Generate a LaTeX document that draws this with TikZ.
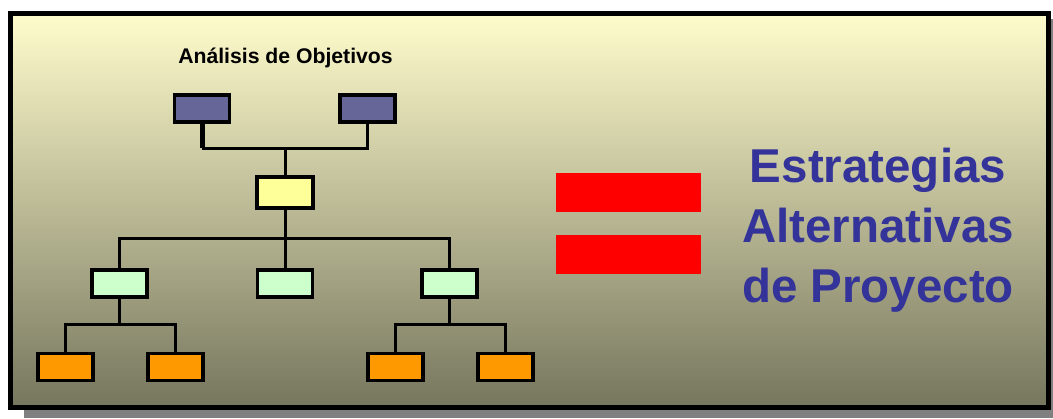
\documentclass[tikz,border=0pt]{standalone}
\usepackage{fontspec}
\setmainfont{Liberation Sans}
\usetikzlibrary{positioning}

\definecolor{morado}{HTML}{666699}
\definecolor{amarillo}{HTML}{FFFF99}
\definecolor{verde}{HTML}{CCFFCC}
\definecolor{naranja}{HTML}{FF9900}
\definecolor{azul}{HTML}{333399}
\definecolor{fondoalto}{RGB}{255,252,204}
\definecolor{fondomedio}{RGB}{184,182,146}
\definecolor{fondobajo}{RGB}{118,118,94}

\tikzset{
  caja/.style={draw=black, line width=3.5pt, minimum width=55pt, minimum height=27pt, inner sep=0pt},
  enlace/.style={line width=3pt}
}

\begin{document}
\begin{tikzpicture}[x=1pt, y=-1pt] %Escala en pixeles
	\useasboundingbox (0,0) rectangle (1053,418);
		%Marco
	\fill[gray] (24,19) rectangle (1070,418); %Sombra
	\shade[top color=fondoalto, middle color=fondomedio, bottom color=fondobajo] (10.5,13.5) rectangle (1048,407.5);
	\draw[line width=5pt] (10.5,13.5) rectangle (1048,407.5);
		%Arbol de objetivos
	\node[font=\bfseries\fontsize{21.2}{25}\selectfont, anchor=base] (titulo) at (285.5,63) {Análisis de Objetivos};
	\node[caja, fill=morado] (objA) at (202,108.5) {};
	\node[caja, fill=morado] (objB) at (367.5,108.5) {};
	\node[caja, fill=amarillo, minimum width=56pt, minimum height=31pt] (central) at (285,192.5) {};
	\node[caja, fill=verde] (medioA) at (119.5,283.5) {};
	\node[caja, fill=verde] (medioB) at (285,283.5) {};
	\node[caja, fill=verde] (medioC) at (449.5,283.5) {};
	\node[caja, fill=naranja] (finA) at (65.5,367) {};
	\node[caja, fill=naranja] (finB) at (175.5,367) {};
	\node[caja, fill=naranja] (finC) at (395.5,367) {};
	\node[caja, fill=naranja] (finD) at (505.5,367) {};
		%Conectores
	\coordinate (barraA) at (285,148);
	\coordinate (barraB) at (285,238);
	\coordinate (barraC) at (119.5,324);
	\coordinate (barraD) at (449.5,324);
	\draw[enlace, line width=5pt] (objA.south) -- (objA.south |- barraA);
	\draw[enlace] (objA.south |- barraA) -- (barraA) -| (objB.south);
	\draw[enlace] (barraA) -- (central.north);
	\draw[enlace] (medioA.north) |- (barraB) -| (medioC.north);
	\draw[enlace] (central.south) -- (medioB.north);
	\draw[enlace] (finA.north) |- (barraC) -| (finB.north);
	\draw[enlace] (medioA.south) -- (barraC);
	\draw[enlace] (finC.north) |- (barraD) -| (finD.north);
	\draw[enlace] (medioC.south) -- (barraD);
		%Signo igual
	\fill[red] (556,173) rectangle (701,212);
	\fill[red] (556,235) rectangle (701,274);
		%Resultado
	\node[font=\bfseries\fontsize{47.5}{60}\selectfont, text=azul, align=center, anchor=base] (estrategias) at (878,302) {Estrategias\\Alternativas\\de Proyecto};
\end{tikzpicture}
\end{document}
